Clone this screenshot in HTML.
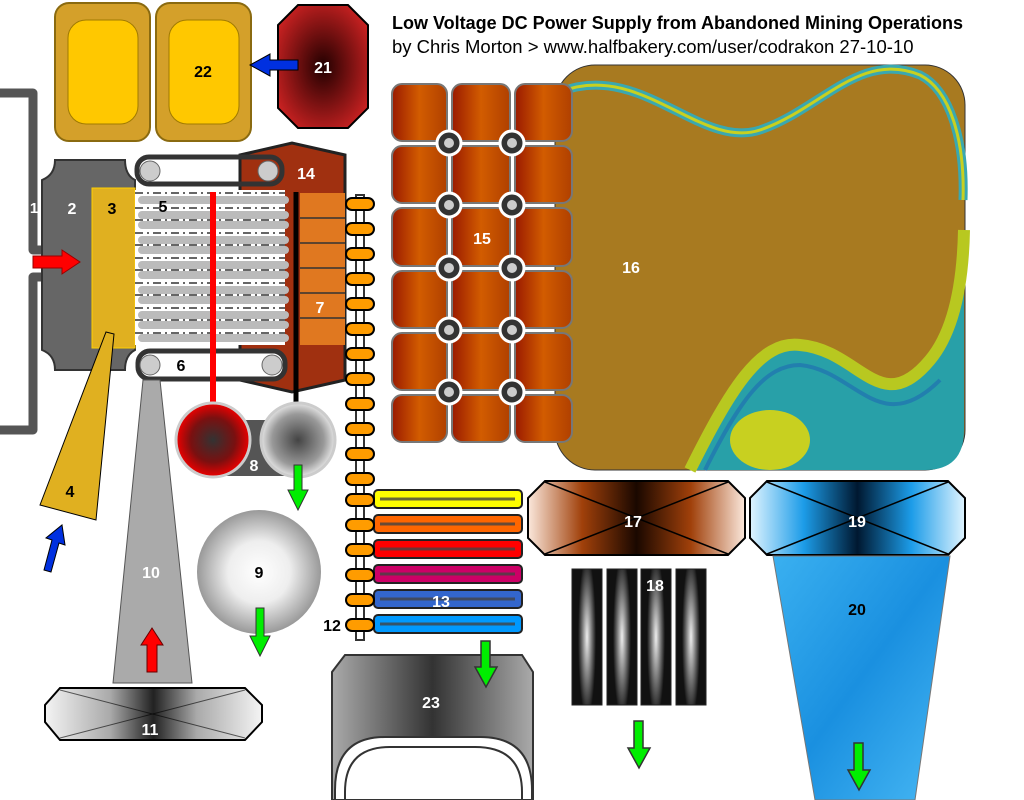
<!DOCTYPE html>
<html><head><meta charset="utf-8"><style>
html,body{margin:0;padding:0;background:#fff;width:1024px;height:800px;overflow:hidden}
svg{display:block}
text{font-family:"Liberation Sans",sans-serif;font-weight:bold}
</style></head><body>
<svg width="1024" height="800" viewBox="0 0 1024 800" xmlns="http://www.w3.org/2000/svg">
<defs>
<radialGradient id="sph" cx="0.5" cy="0.5" r="0.5"><stop offset="0" stop-color="#fff"/><stop offset="0.5" stop-color="#eee"/><stop offset="1" stop-color="#999"/></radialGradient>
<radialGradient id="redball" cx="0.5" cy="0.5" r="0.5"><stop offset="0" stop-color="#333"/><stop offset="0.6" stop-color="#7a1010"/><stop offset="1" stop-color="#e00"/></radialGradient>
<radialGradient id="grayball" cx="0.5" cy="0.5" r="0.5"><stop offset="0" stop-color="#444"/><stop offset="0.7" stop-color="#999"/><stop offset="1" stop-color="#e4e4e4"/></radialGradient>
<linearGradient id="brown" x1="0" x2="1"><stop offset="0" stop-color="#fbe8dc"/><stop offset="0.25" stop-color="#a0400a"/><stop offset="0.5" stop-color="#1a0800"/><stop offset="0.75" stop-color="#a0400a"/><stop offset="1" stop-color="#fbe8dc"/></linearGradient>
<linearGradient id="blue" x1="0" x2="1"><stop offset="0" stop-color="#e0f4ff"/><stop offset="0.25" stop-color="#1c9ce8"/><stop offset="0.5" stop-color="#001830"/><stop offset="0.75" stop-color="#1c9ce8"/><stop offset="1" stop-color="#e0f4ff"/></linearGradient>
<linearGradient id="gray11" x1="0" x2="1"><stop offset="0" stop-color="#f4f4f4"/><stop offset="0.3" stop-color="#aaa"/><stop offset="0.5" stop-color="#222"/><stop offset="0.7" stop-color="#aaa"/><stop offset="1" stop-color="#f4f4f4"/></linearGradient>
<radialGradient id="bar18" cx="0.5" cy="0.5" r="0.6" gradientTransform="translate(0.5 0.5) scale(0.5 1) translate(-0.5 -0.5)"><stop offset="0" stop-color="#eee"/><stop offset="0.6" stop-color="#666"/><stop offset="1" stop-color="#111"/></radialGradient>
<linearGradient id="g23" x1="0" x2="1"><stop offset="0" stop-color="#aaa"/><stop offset="0.5" stop-color="#333"/><stop offset="1" stop-color="#aaa"/></linearGradient>
<linearGradient id="tile" x1="0" x2="1"><stop offset="0" stop-color="#9a1a00"/><stop offset="0.5" stop-color="#d25c00"/><stop offset="1" stop-color="#b04000"/></linearGradient>
<radialGradient id="c21" cx="0.5" cy="0.5" r="0.6"><stop offset="0" stop-color="#200"/><stop offset="1" stop-color="#c22"/></radialGradient>
<linearGradient id="water" x1="0" y1="0" x2="1" y2="1"><stop offset="0" stop-color="#3ab0f0"/><stop offset="0.5" stop-color="#1a90e0"/><stop offset="1" stop-color="#48b8f4"/></linearGradient>
</defs>

<text x="392" y="29" font-size="18" fill="#000">Low Voltage DC Power Supply from Abandoned Mining Operations</text>
<text x="392" y="53" font-size="18.5" fill="#000" style="font-weight:normal">by Chris Morton &gt; www.halfbakery.com/user/codrakon 27-10-10</text>

<!-- 22 -->
<rect x="55" y="3" width="95" height="138" rx="14" fill="#d4a02a" stroke="#8a6a10" stroke-width="2"/>
<rect x="68" y="20" width="70" height="104" rx="18" fill="#ffc800" stroke="#a07a00" stroke-width="1"/>
<rect x="156" y="3" width="95" height="138" rx="14" fill="#d4a02a" stroke="#8a6a10" stroke-width="2"/>
<rect x="169" y="20" width="70" height="104" rx="18" fill="#ffc800" stroke="#a07a00" stroke-width="1"/>
<text x="203" y="77" font-size="16" fill="#000" text-anchor="middle">22</text>
<!-- 21 -->
<polygon points="298,5 348,5 368,25 368,108 348,128 298,128 278,108 278,25" fill="url(#c21)" stroke="#000" stroke-width="2"/>
<text x="323" y="73" font-size="16" fill="#fff" text-anchor="middle">21</text>
<polygon points="298,60 270,60 270,54 250,65 270,76 270,70 298,70" fill="#0030e0" stroke="#000" stroke-width="1"/>

<!-- 1 bracket -->
<path d="M0,93 H33 V250 H42 M42,277 H33 V430 H0" fill="none" stroke="#555" stroke-width="9" stroke-linejoin="round"/>
<text x="34" y="213" font-size="15" fill="#fff" text-anchor="middle">1</text>
<!-- 2 plate -->
<path d="M55,160 H125 Q125,175 135,180 V350 Q125,355 125,370 H55 Q55,355 42,350 V180 Q55,175 55,160Z" fill="#666" stroke="#333" stroke-width="2"/>
<text x="72" y="214" font-size="16" fill="#fff" text-anchor="middle">2</text>
<rect x="92" y="188" width="43" height="160" fill="#e0b020" stroke="#ffd000" stroke-width="1"/>
<text x="112" y="214" font-size="16" fill="#000" text-anchor="middle">3</text>
<polygon points="33,256 62,256 62,250 80,262 62,274 62,268 33,268" fill="#f00" stroke="#900" stroke-width="1"/>
<!-- 4 -->
<polygon points="106,332 114,334 96,520 40,505" fill="#e0b020" stroke="#000" stroke-width="1"/>
<text x="70" y="497" font-size="16" fill="#000" text-anchor="middle">4</text>
<polygon points="44,570 52,540 46,538 62,525 65,545 59,543 51,572" fill="#0030e0" stroke="#000" stroke-width="1"/>

<!-- 14/7 body -->
<polygon points="240,155 292,143 345,155 345,380 292,392 240,380" fill="#a03010" stroke="#222" stroke-width="3"/>
<rect x="300" y="193" width="45" height="152" fill="#e07820"/>
<g stroke="#333" stroke-width="1.5"><line x1="300" y1="218" x2="345" y2="218"/><line x1="300" y1="243" x2="345" y2="243"/><line x1="300" y1="268" x2="345" y2="268"/><line x1="300" y1="293" x2="345" y2="293"/><line x1="300" y1="318" x2="345" y2="318"/></g>
<text x="320" y="313" font-size="16" fill="#fff" text-anchor="middle">7</text>
<!-- 5 tubes -->
<rect x="135" y="190" width="150" height="155" fill="#fff"/>
<g fill="none" stroke="#bbb" stroke-width="8" stroke-linecap="round">
<path d="M142,200 H285 M142,215 H285 M142,225 H285 M142,240 H285 M142,250 H285 M142,265 H285 M142,275 H285 M142,290 H285 M142,300 H285 M142,315 H285 M142,325 H285 M142,338 H285"/>
</g>
<g stroke="#333" stroke-width="1.5" stroke-dasharray="8,4,2,4"><path d="M135,193 H285 M135,208 H285 M135,220 H285 M135,233 H285 M135,245 H285 M135,258 H285 M135,270 H285 M135,283 H285 M135,295 H285 M135,308 H285 M135,320 H285 M135,333 H285"/></g>
<text x="163" y="212" font-size="16" fill="#000" text-anchor="middle">5</text>
<rect x="137" y="157" width="145" height="27" rx="12" fill="none" stroke="#333" stroke-width="5"/>
<circle cx="150" cy="171" r="10" fill="#ccc" stroke="#666"/><circle cx="268" cy="171" r="10" fill="#ccc" stroke="#666"/>
<text x="306" y="179" font-size="16" fill="#fff" text-anchor="middle">14</text>
<rect x="138" y="351" width="147" height="28" rx="12" fill="#fff" stroke="#333" stroke-width="5"/>
<circle cx="150" cy="365" r="10" fill="#ccc" stroke="#666"/><circle cx="272" cy="365" r="10" fill="#ccc" stroke="#666"/>
<text x="181" y="371" font-size="16" fill="#000" text-anchor="middle">6</text>
<line x1="213" y1="192" x2="213" y2="410" stroke="#f00" stroke-width="6"/>
<line x1="296" y1="192" x2="296" y2="410" stroke="#000" stroke-width="5"/>
<!-- 10 -->
<polygon points="143,380 160,380 192,683 113,683" fill="#aaa" stroke="#555" stroke-width="1"/>
<text x="151" y="578" font-size="16" fill="#fff" text-anchor="middle">10</text>
<polygon points="147,672 147,645 141,645 152,628 163,645 157,645 157,672" fill="#f00" stroke="#600"/>
<!-- 8 -->
<rect x="220" y="420" width="70" height="56" fill="#555"/>
<circle cx="213" cy="440" r="37" fill="url(#redball)" stroke="#ccc" stroke-width="3"/>
<circle cx="298" cy="440" r="37" fill="url(#grayball)" stroke="#ccc" stroke-width="3"/>
<text x="254" y="471" font-size="16" fill="#fff" text-anchor="middle">8</text>
<polygon points="294,465 302,465 302,490 308,490 298,510 288,490 294,490" fill="#0e0" stroke="#333"/>
<!-- 9 -->
<circle cx="259" cy="572" r="62" fill="url(#sph)"/>
<text x="259" y="578" font-size="16" fill="#000" text-anchor="middle">9</text>
<polygon points="256,608 264,608 264,636 270,636 260,656 250,636 256,636" fill="#0e0" stroke="#333"/>
<!-- 11 -->
<polygon points="60,688 245,688 262,705 262,722 245,740 60,740 45,722 45,705" fill="url(#gray11)" stroke="#000" stroke-width="2"/>
<path d="M60,690 L245,738 M60,738 L245,690" stroke="#000" stroke-width="1" opacity="0.6"/>
<text x="150" y="735" font-size="16" fill="#fff" text-anchor="middle">11</text>

<!-- ladder 12 -->
<rect x="356" y="195" width="8" height="445" fill="#fff" stroke="#333" stroke-width="2"/>
<g fill="#ff9c00" stroke="#000" stroke-width="2">
<rect x="346" y="198" width="28" height="12" rx="6"/><rect x="346" y="223" width="28" height="12" rx="6"/><rect x="346" y="248" width="28" height="12" rx="6"/><rect x="346" y="273" width="28" height="12" rx="6"/><rect x="346" y="298" width="28" height="12" rx="6"/><rect x="346" y="323" width="28" height="12" rx="6"/><rect x="346" y="348" width="28" height="12" rx="6"/><rect x="346" y="373" width="28" height="12" rx="6"/><rect x="346" y="398" width="28" height="12" rx="6"/><rect x="346" y="423" width="28" height="12" rx="6"/><rect x="346" y="448" width="28" height="12" rx="6"/><rect x="346" y="473" width="28" height="12" rx="6"/>
</g>
<g stroke="#222" stroke-width="2">
<rect x="374" y="490" width="148" height="18" rx="4" fill="#ff0"/>
<rect x="374" y="515" width="148" height="18" rx="4" fill="#f60"/>
<rect x="374" y="540" width="148" height="18" rx="4" fill="#f00"/>
<rect x="374" y="565" width="148" height="18" rx="4" fill="#c06"/>
<rect x="374" y="590" width="148" height="18" rx="4" fill="#36c"/>
<rect x="374" y="615" width="148" height="18" rx="4" fill="#09f"/>
</g>
<g stroke="#444" stroke-width="3" opacity="0.8"><path d="M380,499 H515 M380,524 H515 M380,549 H515 M380,574 H515 M380,599 H515 M380,624 H515"/></g>
<g fill="#ff9c00" stroke="#000" stroke-width="2">
<rect x="346" y="494" width="28" height="12" rx="6"/><rect x="346" y="519" width="28" height="12" rx="6"/><rect x="346" y="544" width="28" height="12" rx="6"/><rect x="346" y="569" width="28" height="12" rx="6"/><rect x="346" y="594" width="28" height="12" rx="6"/><rect x="346" y="619" width="28" height="12" rx="6"/>
</g>
<text x="441" y="607" font-size="16" fill="#fff" text-anchor="middle">13</text>
<text x="332" y="631" font-size="16" fill="#000" text-anchor="middle">12</text>

<!-- 16 -->
<rect x="555" y="65" width="410" height="405" rx="40" fill="#a87a20" stroke="#333" stroke-width="1"/>
<path d="M560,92 C640,60 700,150 760,130 C820,110 860,50 920,75 C950,90 965,140 963,200" fill="none" stroke="#3aa8b0" stroke-width="9"/>
<path d="M560,92 C640,60 700,150 760,130 C820,110 860,50 920,75 C950,90 965,140 963,200" fill="none" stroke="#c8d020" stroke-width="3"/>
<path d="M690,470 C730,390 760,340 800,345 C860,350 880,420 930,360 C955,330 963,280 964,230 V430 Q964,470 925,470Z" fill="#28a0a8"/>
<path d="M690,470 C730,390 760,340 800,345 C860,350 880,420 930,360 C955,330 963,280 964,230" fill="none" stroke="#b8c820" stroke-width="12"/>
<path d="M705,470 C740,400 765,365 800,365 C855,370 880,440 940,380" fill="none" stroke="#2070b0" stroke-width="4" opacity="0.7"/>
<ellipse cx="770" cy="440" rx="40" ry="30" fill="#c8d020"/>
<text x="631" y="273" font-size="16" fill="#fff" text-anchor="middle">16</text>
<!-- 15 tiles -->
<g fill="url(#tile)" stroke="#777" stroke-width="2">
<rect x="392" y="84" width="55" height="57" rx="10"/><rect x="452" y="84" width="58" height="57" rx="10"/><rect x="515" y="84" width="57" height="57" rx="10"/>
<rect x="392" y="146" width="55" height="57" rx="10"/><rect x="452" y="146" width="58" height="57" rx="10"/><rect x="515" y="146" width="57" height="57" rx="10"/>
<rect x="392" y="208" width="55" height="58" rx="10"/><rect x="452" y="208" width="58" height="58" rx="10"/><rect x="515" y="208" width="57" height="58" rx="10"/>
<rect x="392" y="271" width="55" height="57" rx="10"/><rect x="452" y="271" width="58" height="57" rx="10"/><rect x="515" y="271" width="57" height="57" rx="10"/>
<rect x="392" y="333" width="55" height="57" rx="10"/><rect x="452" y="333" width="58" height="57" rx="10"/><rect x="515" y="333" width="57" height="57" rx="10"/>
<rect x="392" y="395" width="55" height="47" rx="10"/><rect x="452" y="395" width="58" height="47" rx="10"/><rect x="515" y="395" width="57" height="47" rx="10"/>
</g>
<g fill="#333" stroke="#fff" stroke-width="3">
<circle cx="449" cy="143" r="12"/><circle cx="512" cy="143" r="12"/><circle cx="449" cy="205" r="12"/><circle cx="512" cy="205" r="12"/><circle cx="449" cy="268" r="12"/><circle cx="512" cy="268" r="12"/><circle cx="449" cy="330" r="12"/><circle cx="512" cy="330" r="12"/><circle cx="449" cy="392" r="12"/><circle cx="512" cy="392" r="12"/>
</g>
<g fill="#ccc"><circle cx="449" cy="143" r="5"/><circle cx="512" cy="143" r="5"/><circle cx="449" cy="205" r="5"/><circle cx="512" cy="205" r="5"/><circle cx="449" cy="268" r="5"/><circle cx="512" cy="268" r="5"/><circle cx="449" cy="330" r="5"/><circle cx="512" cy="330" r="5"/><circle cx="449" cy="392" r="5"/><circle cx="512" cy="392" r="5"/></g>
<text x="482" y="244" font-size="16" fill="#fff" text-anchor="middle">15</text>

<!-- 17 -->
<polygon points="545,481 728,481 745,498 745,538 728,555 545,555 528,538 528,498" fill="url(#brown)" stroke="#000" stroke-width="2"/>
<path d="M545,482 L728,554 M545,554 L728,482" stroke="#000" stroke-width="1.5"/>
<text x="633" y="527" font-size="16" fill="#fff" text-anchor="middle">17</text>
<!-- 18 -->
<g fill="url(#bar18)" stroke="#222" stroke-width="1">
<rect x="572" y="569" width="30" height="136"/><rect x="607" y="569" width="30" height="136"/><rect x="641" y="569" width="30" height="136"/><rect x="676" y="569" width="30" height="136"/>
</g>
<text x="655" y="591" font-size="16" fill="#fff" text-anchor="middle">18</text>
<!-- 19 -->
<polygon points="767,481 948,481 965,498 965,538 948,555 767,555 750,538 750,498" fill="url(#blue)" stroke="#000" stroke-width="2"/>
<path d="M767,482 L948,554 M767,554 L948,482" stroke="#000" stroke-width="1.5"/>
<text x="857" y="527" font-size="16" fill="#fff" text-anchor="middle">19</text>
<!-- 20 -->
<polygon points="773,556 950,556 915,800 815,800" fill="url(#water)" stroke="#777" stroke-width="1"/>
<text x="857" y="615" font-size="16" fill="#000" text-anchor="middle">20</text>
<!-- 23 -->
<path d="M345,655 H522 L533,672 V800 H332 V672Z" fill="url(#g23)" stroke="#333" stroke-width="2"/>
<path d="M335,800 V790 Q335,737 385,737 H480 Q532,737 532,790 V800Z" fill="#fff" stroke="#333" stroke-width="2"/>
<path d="M345,800 V792 Q345,747 390,747 H475 Q522,747 522,792 V800" fill="none" stroke="#333" stroke-width="2"/>
<text x="431" y="708" font-size="16" fill="#fff" text-anchor="middle">23</text>
<g fill="#0e0" stroke="#333" stroke-width="1.5">
<polygon points="481,641 490,641 490,667 497,667 486,687 475,667 481,667"/>
<polygon points="634,721 643,721 643,748 650,748 639,768 628,748 634,748"/>
<polygon points="854,743 863,743 863,770 870,770 859,790 848,770 854,770"/>
</g>
</svg>
</body></html>
